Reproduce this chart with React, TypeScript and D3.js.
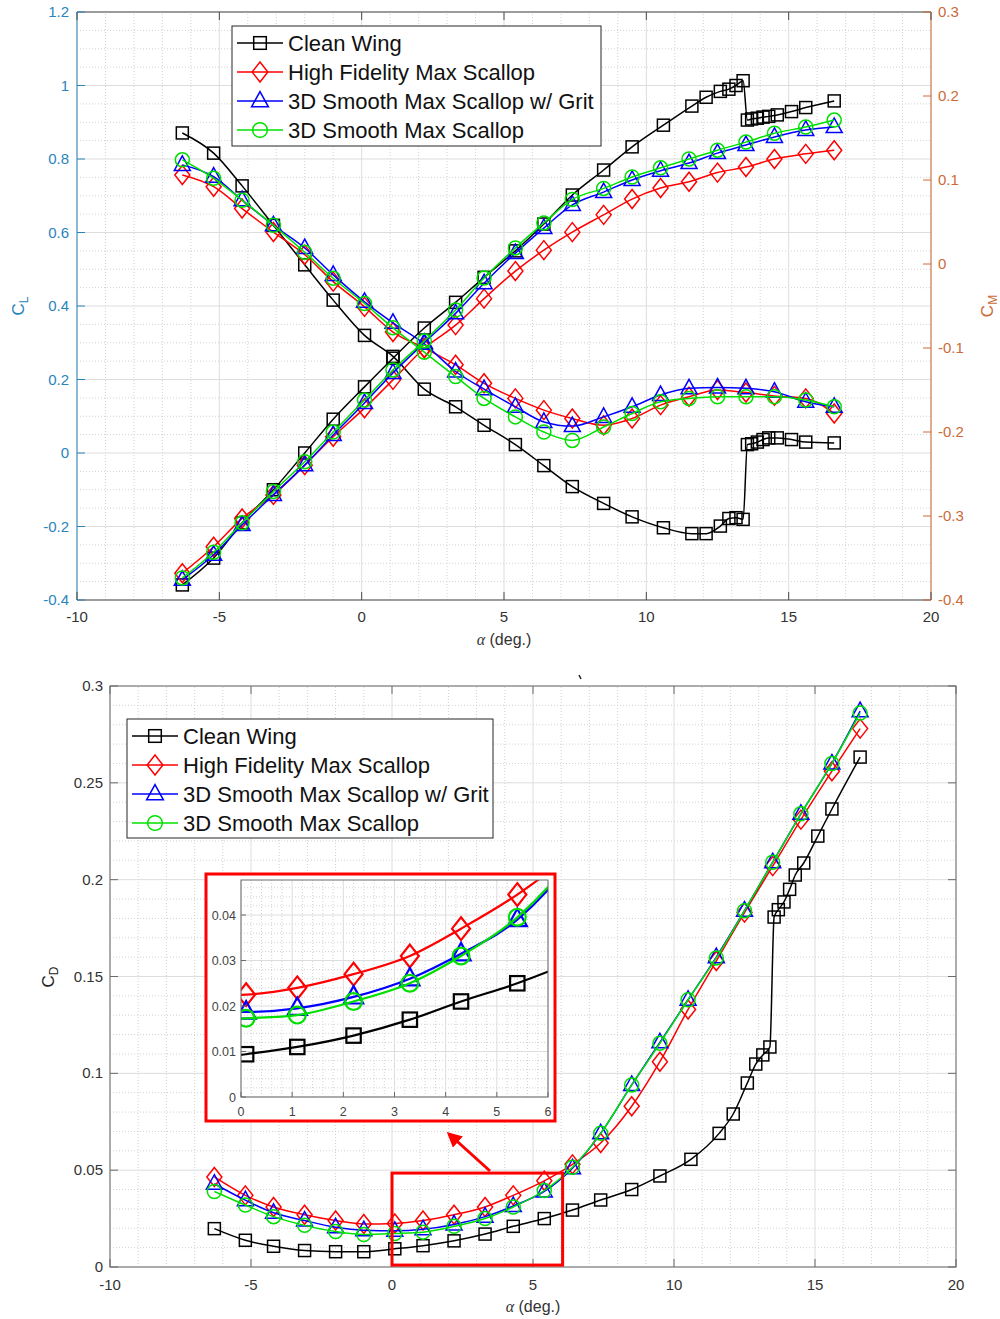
import React from 'react';
import * as d3 from 'd3';

// ---------- DATA ----------
const seriesNames = ['Clean Wing', 'High Fidelity Max Scallop', '3D Smooth Max Scallop w/ Grit', '3D Smooth Max Scallop'];
const seriesColors = ['#000000', '#ff0000', '#0000ff', '#00e000'];
const seriesShapes = ['square', 'diamond', 'triangle', 'circle'];

const alphaClean = [-6.3, -5.2, -4.2, -3.1, -2.0, -1.0, 0.1, 1.1, 2.2, 3.3, 4.3, 5.4, 6.4, 7.4, 8.5, 9.5, 10.6, 11.6, 12.1, 12.6, 12.9, 13.15, 13.4, 13.55, 13.7, 13.9, 14.1, 14.3, 14.6, 15.1, 15.6, 16.6];
const clClean = [-0.359, -0.286, -0.19, -0.1, 0.0, 0.092, 0.18, 0.258, 0.34, 0.41, 0.478, 0.55, 0.623, 0.702, 0.77, 0.833, 0.892, 0.944, 0.968, 0.984, 0.99, 1.0, 1.013, 0.906, 0.909, 0.911, 0.914, 0.916, 0.92, 0.929, 0.94, 0.958];
const cmClean = [0.156, 0.132, 0.093, 0.046, -0.001, -0.043, -0.085, -0.11, -0.149, -0.17, -0.192, -0.215, -0.24, -0.265, -0.285, -0.301, -0.314, -0.321, -0.321, -0.312, -0.303, -0.302, -0.304, -0.215, -0.214, -0.212, -0.209, -0.207, -0.207, -0.209, -0.212, -0.213];
const cdClean = [0.0198, 0.0138, 0.0107, 0.0085, 0.0079, 0.0079, 0.0094, 0.011, 0.0135, 0.017, 0.021, 0.025, 0.0294, 0.0346, 0.04, 0.047, 0.0556, 0.069, 0.079, 0.095, 0.1048, 0.1095, 0.1136, 0.1807, 0.1845, 0.1885, 0.195, 0.2024, 0.2086, 0.2225, 0.2365, 0.2633];

const alphaScallop = [-6.3, -5.2, -4.2, -3.1, -2.0, -1.0, 0.1, 1.1, 2.2, 3.3, 4.3, 5.4, 6.4, 7.4, 8.5, 9.5, 10.5, 11.5, 12.5, 13.5, 14.5, 15.6, 16.6];

const clHiFi = [-0.327, -0.255, -0.178, -0.114, -0.033, 0.044, 0.122, 0.199, 0.285, 0.348, 0.42, 0.495, 0.552, 0.601, 0.648, 0.691, 0.721, 0.738, 0.763, 0.778, 0.8, 0.814, 0.824];
const cmHiFi = [0.106, 0.092, 0.066, 0.038, 0.011, -0.021, -0.051, -0.081, -0.1, -0.12, -0.142, -0.16, -0.174, -0.184, -0.192, -0.184, -0.168, -0.158, -0.15, -0.153, -0.157, -0.16, -0.178];
const cdHiFi = [0.0465, 0.037, 0.031, 0.027, 0.024, 0.0222, 0.0225, 0.024, 0.027, 0.031, 0.037, 0.0445, 0.053, 0.064, 0.083, 0.106, 0.133, 0.158, 0.183, 0.207, 0.231, 0.256, 0.278];

const clGrit = [-0.345, -0.277, -0.196, -0.114, -0.033, 0.049, 0.136, 0.218, 0.3, 0.38, 0.462, 0.544, 0.612, 0.675, 0.71, 0.743, 0.768, 0.789, 0.816, 0.838, 0.86, 0.879, 0.887];
const cmGrit = [0.118, 0.104, 0.076, 0.046, 0.019, -0.013, -0.045, -0.07, -0.095, -0.128, -0.149, -0.17, -0.188, -0.193, -0.182, -0.17, -0.156, -0.148, -0.147, -0.148, -0.152, -0.164, -0.17];
const cdGrit = [0.043, 0.0345, 0.028, 0.024, 0.0205, 0.019, 0.0187, 0.0195, 0.022, 0.026, 0.0315, 0.039, 0.051, 0.069, 0.094, 0.116, 0.138, 0.16, 0.184, 0.209, 0.234, 0.26, 0.287];

const clSmooth = [-0.34, -0.27, -0.19, -0.105, -0.024, 0.057, 0.144, 0.226, 0.305, 0.389, 0.476, 0.558, 0.626, 0.69, 0.72, 0.751, 0.776, 0.8, 0.824, 0.846, 0.87, 0.887, 0.906];
const cmSmooth = [0.124, 0.102, 0.076, 0.046, 0.014, -0.017, -0.047, -0.076, -0.105, -0.134, -0.16, -0.182, -0.2, -0.21, -0.194, -0.178, -0.164, -0.16, -0.158, -0.158, -0.158, -0.162, -0.17];
const cdSmooth = [0.039, 0.032, 0.026, 0.0215, 0.0183, 0.0168, 0.0173, 0.018, 0.021, 0.025, 0.031, 0.0395, 0.0515, 0.069, 0.094, 0.1155, 0.138, 0.1596, 0.184, 0.209, 0.234, 0.26, 0.286];

const alphaTicks = [-10, -5, 0, 5, 10, 15, 20];
const clTicks = [-0.4, -0.2, 0, 0.2, 0.4, 0.6, 0.8, 1, 1.2];
const cmTicks = [-0.4, -0.3, -0.2, -0.1, 0, 0.1, 0.2, 0.3];
const cdTicks = [0, 0.05, 0.1, 0.15, 0.2, 0.25, 0.3];
const insetAlphaTicks = [0, 1, 2, 3, 4, 5, 6];
const insetCdTicks = [0, 0.01, 0.02, 0.03, 0.04];

// ---------- STYLE ----------
const FONT = '"Liberation Sans", Arial, Helvetica, sans-serif';
const LEFT_C = '#2a84bb';
const RIGHT_C = '#cc6b38';
const GRID_MAJ = '#dddddd';
const GRID_MIN = '#d2d2d2';

const fmt = (v: number) => {
  const s = String(+v.toFixed(4));
  return s === '-0' ? '0' : s;
};

function Marker({ shape, x, y, color, k, s = 1, sw = 1.5 }: any) {
  if (shape === 'square') return <rect key={k} x={x - 6 * s} y={y - 6 * s} width={12 * s} height={12 * s} fill="none" stroke={color} strokeWidth={sw} />;
  if (shape === 'diamond') return <path key={k} d={`M${x},${y - 9.5 * s}L${x + 7.5 * s},${y}L${x},${y + 9.5 * s}L${x - 7.5 * s},${y}Z`} fill="none" stroke={color} strokeWidth={sw} />;
  if (shape === 'triangle') return <path key={k} d={`M${x},${y - 9 * s}L${x + 8 * s},${y + 5.5 * s}L${x - 8 * s},${y + 5.5 * s}Z`} fill="none" stroke={color} strokeWidth={sw} />;
  return <circle key={k} cx={x} cy={y} r={7 * s} fill="none" stroke={color} strokeWidth={sw} />;
}

function SeriesPlot({ xs, ys, xs_, ys_, color, shape, ms = 1, lw = 1.5 }: any) {
  const pts: [number, number][] = xs.map((a: number, i: number) => [xs_(a), ys_(ys[i])]);
  const d = d3.line().curve(d3.curveMonotoneX)(pts) || '';
  return (
    <g>
      <path d={d} fill="none" stroke={color} strokeWidth={lw} />
      {pts.map((p, i) => <Marker key={i} k={i} shape={shape} x={p[0]} y={p[1]} color={color} s={ms} sw={lw} />)}
    </g>
  );
}

function Grid({ xs, ys, xMaj, xMin, yMaj, yMin }: any) {
  const [x0, x1] = xs.range();
  const [y0, y1] = ys.range();
  return (
    <g>
      {xMin.map((v: number, i: number) => <line key={'xm' + i} x1={xs(v)} x2={xs(v)} y1={y0} y2={y1} stroke={GRID_MIN} strokeDasharray="1,2" strokeWidth={1} />)}
      {yMin.map((v: number, i: number) => <line key={'ym' + i} x1={x0} x2={x1} y1={ys(v)} y2={ys(v)} stroke={GRID_MIN} strokeDasharray="1,2" strokeWidth={1} />)}
      {xMaj.map((v: number, i: number) => <line key={'xM' + i} x1={xs(v)} x2={xs(v)} y1={y0} y2={y1} stroke={GRID_MAJ} strokeWidth={1} />)}
      {yMaj.map((v: number, i: number) => <line key={'yM' + i} x1={x0} x2={x1} y1={ys(v)} y2={ys(v)} stroke={GRID_MAJ} strokeWidth={1} />)}
    </g>
  );
}

function Legend({ x, y, w, h }: any) {
  return (
    <g>
      <rect x={x} y={y} width={w} height={h} fill="#ffffff" stroke="#262626" strokeWidth={1} />
      {seriesNames.map((n, i) => {
        const cy = y + 17 + i * 29;
        return (
          <g key={i}>
            <line x1={x + 5} x2={x + 51} y1={cy} y2={cy} stroke={seriesColors[i]} strokeWidth={1.5} />
            <Marker shape={seriesShapes[i]} x={x + 28} y={cy} color={seriesColors[i]} s={1.05} />
            <text x={x + 56} y={cy + 8} fontSize={22} fontFamily={FONT} fill="#111">{n}</text>
          </g>
        );
      })}
    </g>
  );
}

function AlphaLabel({ x, y }: any) {
  return (
    <text x={x} y={y} textAnchor="middle" fontSize={16} fontFamily={FONT} fill="#333">
      <tspan fontStyle="italic" fontFamily='"Liberation Serif", "DejaVu Serif", serif'>α</tspan> (deg.)
    </text>
  );
}

export default function App() {
  // ---- top chart ----
  const xT = d3.scaleLinear().domain([-10, 20]).range([77, 931]);
  const yL = d3.scaleLinear().domain([-0.4, 1.2]).range([600, 12]);
  const yR = d3.scaleLinear().domain([-0.4, 0.3]).range([600, 12]);
  // ---- bottom chart ----
  const xB = d3.scaleLinear().domain([-10, 20]).range([110, 956]);
  const yB = d3.scaleLinear().domain([0, 0.3]).range([1267, 686]);
  // ---- inset ----
  const xI = d3.scaleLinear().domain([0, 6]).range([241, 548]);
  const yI = d3.scaleLinear().domain([0, 0.0477]).range([1097, 880]);

  const series = [
    { xs: alphaClean, cl: clClean, cm: cmClean, cd: cdClean },
    { xs: alphaScallop, cl: clHiFi, cm: cmHiFi, cd: cdHiFi },
    { xs: alphaScallop, cl: clGrit, cm: cmGrit, cd: cdGrit },
    { xs: alphaScallop, cl: clSmooth, cm: cmSmooth, cd: cdSmooth },
  ];

  const xMinor = d3.range(-10, 21, 1).filter((v) => v % 5 !== 0);
  const clMinor = d3.range(-0.4, 1.2001, 0.05).filter((v) => Math.abs(Math.round(v / 0.2) * 0.2 - v) > 1e-6);
  const cdMinor = d3.range(0, 0.3001, 0.01).filter((v) => Math.abs(Math.round(v / 0.05) * 0.05 - v) > 1e-6);
  const iXMinor = d3.range(0, 6.001, 0.2).filter((v) => Math.abs(Math.round(v) - v) > 1e-6);
  const iYMinor = d3.range(0, 0.0477, 0.002).filter((v) => Math.abs(Math.round(v / 0.01) * 0.01 - v) > 1e-6);

  const boxA0 = 0, boxA1 = 6.05, boxC0 = 0.001, boxC1 = 0.0485;

  return (
    <svg width={1000} height={1319} style={{ position: 'absolute', left: 0, top: 0, background: '#fff' }} fontFamily={FONT}>
      <defs>
        <clipPath id="clipTop"><rect x={77} y={12} width={854} height={588} /></clipPath>
        <clipPath id="clipBot"><rect x={110} y={686} width={846} height={581} /></clipPath>
        <clipPath id="clipIn"><rect x={241} y={880} width={307} height={217} /></clipPath>
        <marker id="arrowHead" viewBox="0 0 10 10" refX="8" refY="5" markerWidth="5" markerHeight="5" orient="auto">
          <path d="M0,0L10,5L0,10Z" fill="#ff0000" />
        </marker>
      </defs>
      <rect x={0} y={0} width={1000} height={1319} fill="#fff" />

      {/* ================= TOP CHART ================= */}
      <rect x={77} y={12} width={854} height={588} fill="#fff" />
      <Grid xs={xT} ys={yL} xMaj={alphaTicks} xMin={xMinor} yMaj={clTicks} yMin={clMinor} />
      <g clipPath="url(#clipTop)">
        {series.map((s, i) => (
          <g key={'t' + i}>
            <SeriesPlot xs={s.xs} ys={s.cl} xs_={xT} ys_={yL} color={seriesColors[i]} shape={seriesShapes[i]} />
            <SeriesPlot xs={s.xs} ys={s.cm} xs_={xT} ys_={yR} color={seriesColors[i]} shape={seriesShapes[i]} />
          </g>
        ))}
      </g>
      {/* frame */}
      <line x1={77} x2={931} y1={12} y2={12} stroke="#4a4a4a" strokeWidth={1} />
      <line x1={77} x2={931} y1={600} y2={600} stroke="#4a4a4a" strokeWidth={1} />
      <line x1={77} x2={77} y1={12} y2={600} stroke={LEFT_C} strokeWidth={1} />
      <line x1={931} x2={931} y1={12} y2={600} stroke={RIGHT_C} strokeWidth={1} />
      {alphaTicks.map((v, i) => (
        <g key={'tx' + i}>
          <line x1={xT(v)} x2={xT(v)} y1={600} y2={592} stroke="#4a4a4a" />
          <line x1={xT(v)} x2={xT(v)} y1={12} y2={20} stroke="#4a4a4a" />
          <text x={xT(v)} y={622} textAnchor="middle" fontSize={15} fill="#333">{fmt(v)}</text>
        </g>
      ))}
      {clTicks.map((v, i) => (
        <g key={'tl' + i}>
          <line x1={77} x2={85} y1={yL(v)} y2={yL(v)} stroke={LEFT_C} />
          <text x={69} y={yL(v) + 5} textAnchor="end" fontSize={15} fill={LEFT_C}>{fmt(v)}</text>
        </g>
      ))}
      {cmTicks.map((v, i) => (
        <g key={'tr' + i}>
          <line x1={923} x2={931} y1={yR(v)} y2={yR(v)} stroke={RIGHT_C} />
          <text x={938} y={yR(v) + 5} textAnchor="start" fontSize={15} fill={RIGHT_C}>{fmt(v)}</text>
        </g>
      ))}
      <text transform="translate(24,306) rotate(-90)" textAnchor="middle" fontSize={17} fill={LEFT_C}>
        C<tspan fontSize={12} dy={4}>L</tspan>
      </text>
      <text transform="translate(993,306) rotate(-90)" textAnchor="middle" fontSize={17} fill={RIGHT_C}>
        C<tspan fontSize={12} dy={4}>M</tspan>
      </text>
      <AlphaLabel x={504} y={645} />
      <Legend x={232} y={26} w={369} h={120} />

      {/* ================= BOTTOM CHART ================= */}
      <rect x={110} y={686} width={846} height={581} fill="#fff" />
      <Grid xs={xB} ys={yB} xMaj={alphaTicks} xMin={xMinor} yMaj={cdTicks} yMin={cdMinor} />
      <g clipPath="url(#clipBot)">
        {series.map((s, i) => (
          <SeriesPlot key={'b' + i} xs={s.xs} ys={s.cd} xs_={xB} ys_={yB} color={seriesColors[i]} shape={seriesShapes[i]} />
        ))}
      </g>
      <rect x={110} y={686} width={846} height={581} fill="none" stroke="#6a6a6a" strokeWidth={1} />
      {alphaTicks.map((v, i) => (
        <g key={'bx' + i}>
          <line x1={xB(v)} x2={xB(v)} y1={1267} y2={1259} stroke="#6a6a6a" />
          <line x1={xB(v)} x2={xB(v)} y1={686} y2={694} stroke="#6a6a6a" />
          <text x={xB(v)} y={1290} textAnchor="middle" fontSize={15} fill="#333">{fmt(v)}</text>
        </g>
      ))}
      {cdTicks.map((v, i) => (
        <g key={'by' + i}>
          <line x1={110} x2={118} y1={yB(v)} y2={yB(v)} stroke="#6a6a6a" />
          <line x1={948} x2={956} y1={yB(v)} y2={yB(v)} stroke="#6a6a6a" />
          <text x={103} y={yB(v) + 5} textAnchor="end" fontSize={15} fill="#333">{fmt(v)}</text>
        </g>
      ))}
      <text transform="translate(54,977) rotate(-90)" textAnchor="middle" fontSize={17} fill="#222">
        C<tspan fontSize={12} dy={4}>D</tspan>
      </text>
      <AlphaLabel x={533} y={1312} />
      <path d="M579,675 L581,679" stroke="#222" strokeWidth={1.5} />
      <Legend x={127} y={719} w={366} h={119} />

      {/* highlight box and arrow */}
      <rect x={xB(boxA0)} y={yB(boxC1)} width={xB(boxA1) - xB(boxA0)} height={yB(boxC0) - yB(boxC1)} fill="none" stroke="#ff0000" strokeWidth={3} />
      <line x1={490} y1={1171} x2={449} y2={1134} stroke="#ff0000" strokeWidth={3} markerEnd="url(#arrowHead)" />

      {/* ================= INSET ================= */}
      <rect x={206} y={874} width={349} height={247} fill="#fff" stroke="#ff0000" strokeWidth={3} />
      <Grid xs={xI} ys={yI} xMaj={insetAlphaTicks} xMin={iXMinor} yMaj={insetCdTicks} yMin={iYMinor} />
      <g clipPath="url(#clipIn)">
        {series.map((s, i) => (
          <SeriesPlot key={'i' + i} xs={s.xs} ys={s.cd} xs_={xI} ys_={yI} color={seriesColors[i]} shape={seriesShapes[i]} ms={1.2} lw={2.2} />
        ))}
      </g>
      <rect x={241} y={880} width={307} height={217} fill="none" stroke="#6a6a6a" strokeWidth={1} />
      {insetAlphaTicks.map((v, i) => (
        <g key={'ix' + i}>
          <line x1={xI(v)} x2={xI(v)} y1={1097} y2={1092} stroke="#6a6a6a" />
          <text x={xI(v)} y={1116} textAnchor="middle" fontSize={12.5} fill="#444">{fmt(v)}</text>
        </g>
      ))}
      {insetCdTicks.map((v, i) => (
        <g key={'iy' + i}>
          <line x1={241} x2={246} y1={yI(v)} y2={yI(v)} stroke="#6a6a6a" />
          <text x={236} y={yI(v) + 4.5} textAnchor="end" fontSize={12.5} fill="#444">{fmt(v)}</text>
        </g>
      ))}
    </svg>
  );
}
